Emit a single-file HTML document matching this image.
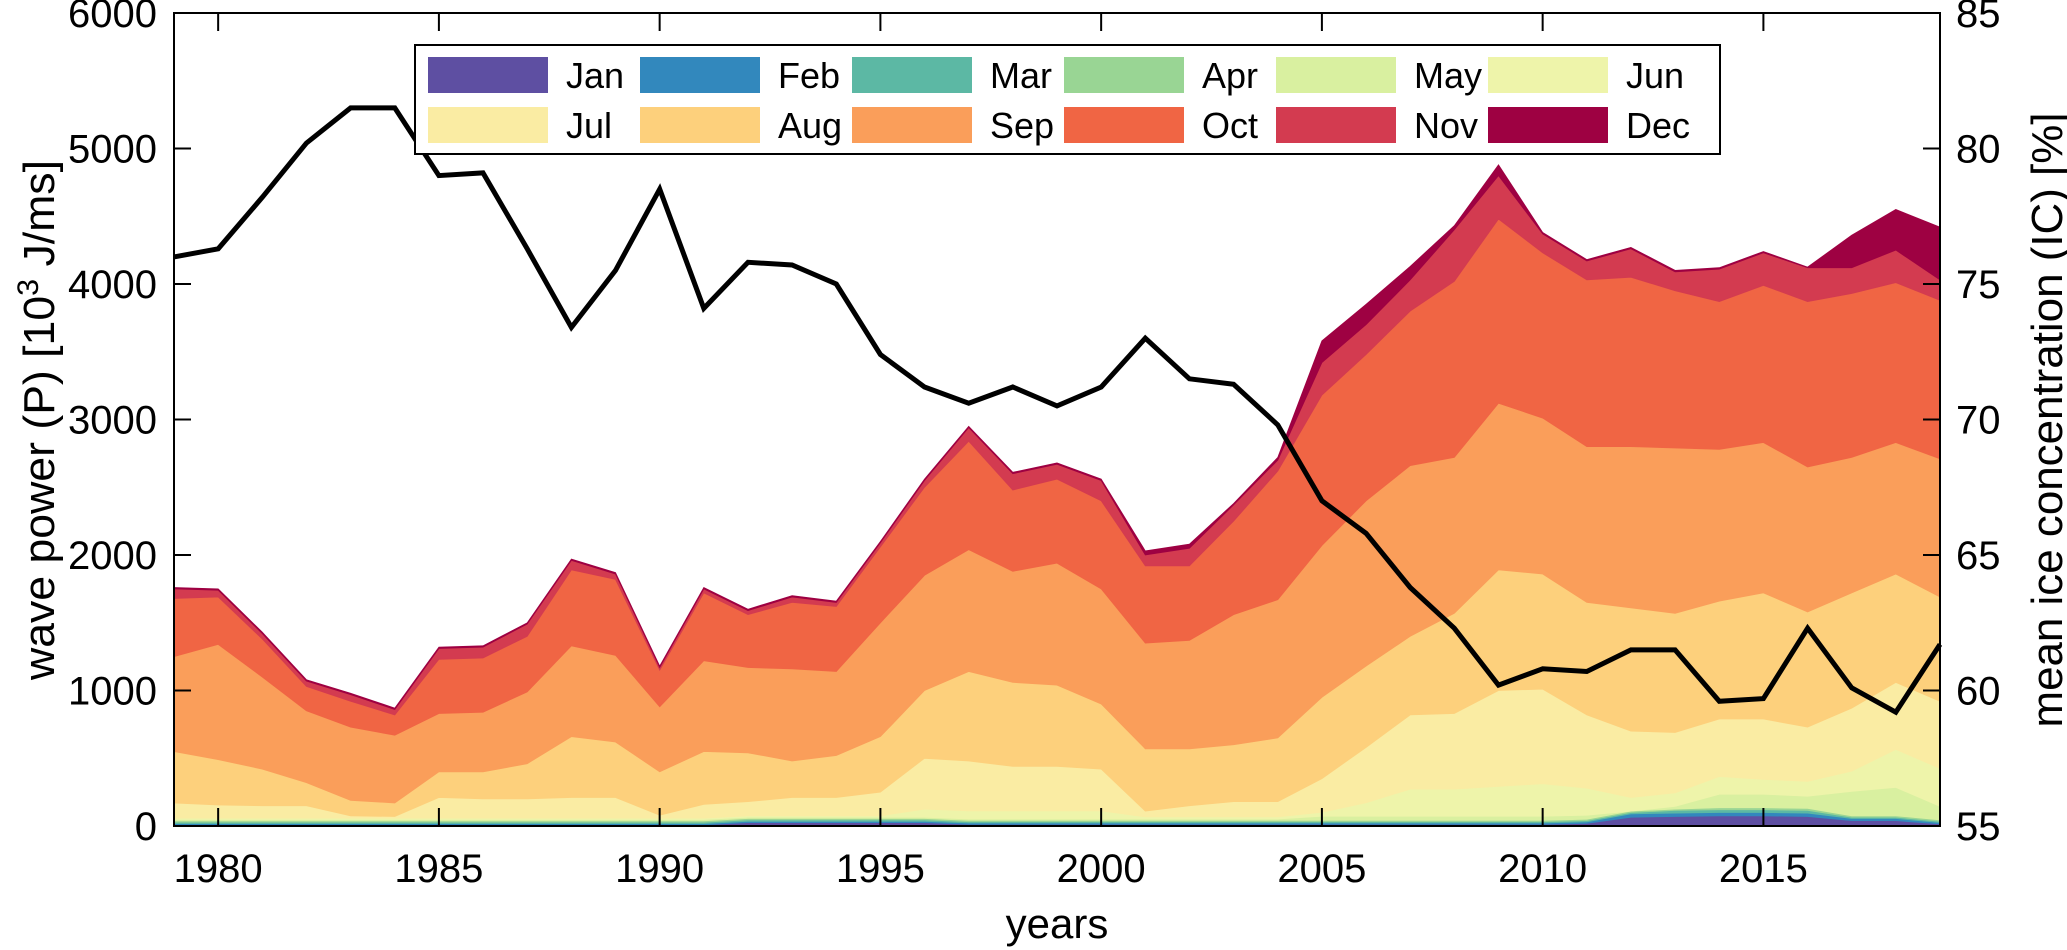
<!DOCTYPE html>
<html><head><meta charset="utf-8">
<style>
html,body{margin:0;padding:0;background:#fff;}
svg{display:block;font-family:"Liberation Sans",Arial,sans-serif;}
</style></head>
<body>
<svg id="chart" width="2067" height="950" viewBox="0 0 2067 950" xmlns="http://www.w3.org/2000/svg"></svg>
<script>
const years = [];
for (let y = 1979; y <= 2019; y++) years.push(y);
const monthNames = ["Jan","Feb","Mar","Apr","May","Jun","Jul","Aug","Sep","Oct","Nov","Dec"];
const monthColors = ["#5e4fa2","#3288bd","#5cb8a4","#99d594","#d9f0a0","#eef4aa","#faeca3","#fdd07c","#fa9e5a","#f06544","#d33b50","#9e0142"];
const janP = [8,8,8,8,8,8,8,8,8,8,8,8,8,25,25,25,25,25,12,12,12,12,12,12,12,12,12,12,12,12,12,12,20,65,70,75,75,70,40,40,15];
const febP = [10,10,10,10,10,10,10,10,10,10,10,10,10,10,10,10,10,10,10,10,10,10,10,10,10,10,10,10,10,10,10,10,10,25,25,25,25,25,15,15,10];
const marP = [10,10,10,10,10,10,10,10,10,10,10,10,10,10,10,10,10,10,10,10,10,10,10,10,10,10,10,10,10,10,10,10,10,10,20,20,20,20,10,10,10];
const aprP = [10,10,10,10,10,10,10,10,10,10,10,10,10,10,10,10,10,10,10,10,10,10,10,10,10,10,10,10,10,10,10,10,10,10,10,15,15,15,10,10,10];
const mayP = [10,10,10,10,10,10,10,10,10,10,10,10,10,10,10,10,10,10,10,10,10,10,10,10,10,10,30,30,30,30,30,30,30,0,20,100,100,90,180,210,100];
const junP = [10,10,10,10,10,10,10,10,10,10,10,10,10,10,10,10,10,60,60,60,60,60,15,15,15,15,30,100,200,200,220,240,200,100,100,130,110,110,150,280,280];
const julP = [112,97,92,92,17,12,152,142,142,152,152,22,102,105,135,135,175,375,368,328,328,308,43,83,113,113,248,408,548,558,708,698,540,490,445,425,445,400,465,495,495];
const augP = [380,335,270,170,115,100,190,200,260,450,410,320,390,360,270,310,410,500,660,620,600,480,460,420,420,470,600,600,580,740,890,850,830,910,880,870,930,850,850,800,770];
const sepP = [700,850,680,530,540,500,430,440,530,670,640,480,670,630,680,620,840,850,900,820,900,850,780,800,960,1020,1120,1220,1260,1150,1230,1150,1150,1190,1220,1120,1110,1070,1000,970,1020];
const octP = [430,350,280,180,190,150,400,400,410,560,560,270,500,390,490,480,560,650,800,600,620,650,570,550,690,950,1110,1080,1140,1300,1360,1220,1230,1250,1160,1090,1160,1220,1210,1180,1170];
const novP = [70,50,40,40,50,40,80,80,90,70,40,20,30,30,40,30,30,50,100,120,110,150,80,130,120,80,240,220,230,380,320,140,140,210,140,240,240,250,190,240,150];
const decP = [10,10,10,10,10,10,10,10,10,10,10,10,10,10,10,10,10,10,10,10,10,10,30,30,10,20,160,150,100,30,80,10,10,10,10,10,10,5,240,300,390];
const iceConc = [76.0,76.3,78.2,80.2,81.5,81.5,79.0,79.1,76.3,73.4,75.5,78.5,74.1,75.8,75.7,75.0,72.4,71.2,70.6,71.2,70.5,71.2,73.0,71.5,71.3,69.8,67.0,65.8,63.8,62.3,60.2,60.8,60.7,61.5,61.5,59.6,59.7,62.3,60.1,59.2,61.7];
const leftTicks = [0,1000,2000,3000,4000,5000,6000];
const rightTicks = [55,60,65,70,75,80,85];
const xTicks = [1980,1985,1990,1995,2000,2005,2010,2015];

const series = [janP,febP,marP,aprP,mayP,junP,julP,augP,sepP,octP,novP,decP];
const L=174, R=1940, T=13, B=826;
const xS = y => L + (y-1979)/(2019-1979)*(R-L);
const yL = v => B - v/6000*(B-T);
const yR = v => B - (v-55)/30*(B-T);
const NS="http://www.w3.org/2000/svg";
const svg=document.getElementById('chart');
function mk(tag, attrs, parent){const e=document.createElementNS(NS,tag);for(const k in attrs)e.setAttribute(k,attrs[k]);(parent||svg).appendChild(e);return e;}

// stacked areas
const gA = mk('g',{});


let base = years.map(()=>0);
series.forEach((s,m)=>{
  const top = base.map((b,i)=>b+s[i]);
  let d = 'M'+years.map((y,i)=>xS(y).toFixed(1)+','+yL(top[i]).toFixed(1)).join('L');
  for(let i=years.length-1;i>=0;i--) d+='L'+xS(years[i]).toFixed(1)+','+yL(base[i]).toFixed(1);
  d+='Z';
  const p=mk('path',{d:d,fill:monthColors[m],stroke:monthColors[m],'stroke-width':0.8},gA);
  
  
  base = top;
});

// ice line
const ln = mk('polyline',{points:years.map((y,i)=>xS(y).toFixed(1)+','+yR(iceConc[i]).toFixed(1)).join(' '),fill:'none',stroke:'#000','stroke-width':5,'stroke-linejoin':'miter'});



// frame
const fr = mk('rect',{x:L,y:T,width:R-L,height:B-T,fill:'none',stroke:'#000','stroke-width':2});



// ticks
leftTicks.forEach(v=>{
  const y=yL(v);
  const t=mk('line',{x1:L,x2:L+17,y1:y,y2:y,stroke:'#000','stroke-width':2});
  
  
  const tx=mk('text',{x:157,y:y+14,'text-anchor':'end','font-size':40,fill:'#000'});
  tx.textContent=v;
  
  
});
rightTicks.forEach(v=>{
  const y=yR(v);
  const t=mk('line',{x1:R-17,x2:R,y1:y,y2:y,stroke:'#000','stroke-width':2});
  
  
  const tx=mk('text',{x:1956,y:y+14,'text-anchor':'start','font-size':40,fill:'#000'});
  tx.textContent=v;
  
  
});
xTicks.forEach(v=>{
  const x=xS(v);
  const t=mk('line',{x1:x,x2:x,y1:T,y2:T+18,stroke:'#000','stroke-width':2});
  
  
  const t2=mk('line',{x1:x,x2:x,y1:B,y2:B-18,stroke:'#000','stroke-width':2});
  
  
  const tx=mk('text',{x:x,y:882,'text-anchor':'middle','font-size':40,fill:'#000'});
  tx.textContent=v;
  
  
});

// titles
const xt=mk('text',{x:1057,y:938,'text-anchor':'middle','font-size':42,fill:'#000'});
xt.textContent='years';


const ylt=mk('text',{x:0,y:0,'text-anchor':'middle','font-size':44,fill:'#000',transform:'translate(54,420) rotate(-90)',textLength:520,lengthAdjust:'spacingAndGlyphs'});
ylt.innerHTML='wave power (P) [10<tspan dy="-16" font-size="30">3</tspan><tspan dy="16"> J/ms]</tspan>';


const yrt=mk('text',{x:0,y:0,'text-anchor':'middle','font-size':44,fill:'#000',transform:'translate(2062,420) rotate(-90)',textLength:615,lengthAdjust:'spacingAndGlyphs'});
yrt.textContent='mean ice concentration (IC) [%]';



// legend
const lg=mk('g',{});


mk('rect',{x:415,y:45,width:1305,height:109,fill:'#fff',stroke:'#000','stroke-width':2},lg);
monthNames.forEach((n,m)=>{
  const col=m%6,row=Math.floor(m/6);
  const x=428+col*212, y=57+row*50;
  const g=mk('g',{},lg);
  
  
  mk('rect',{x:x,y:y,width:120,height:36,fill:monthColors[m]},g);
  const tx=mk('text',{x:x+138,y:y+31,'font-size':36,fill:'#000'},g);
  tx.textContent=n;
});
</script>
</body></html>
